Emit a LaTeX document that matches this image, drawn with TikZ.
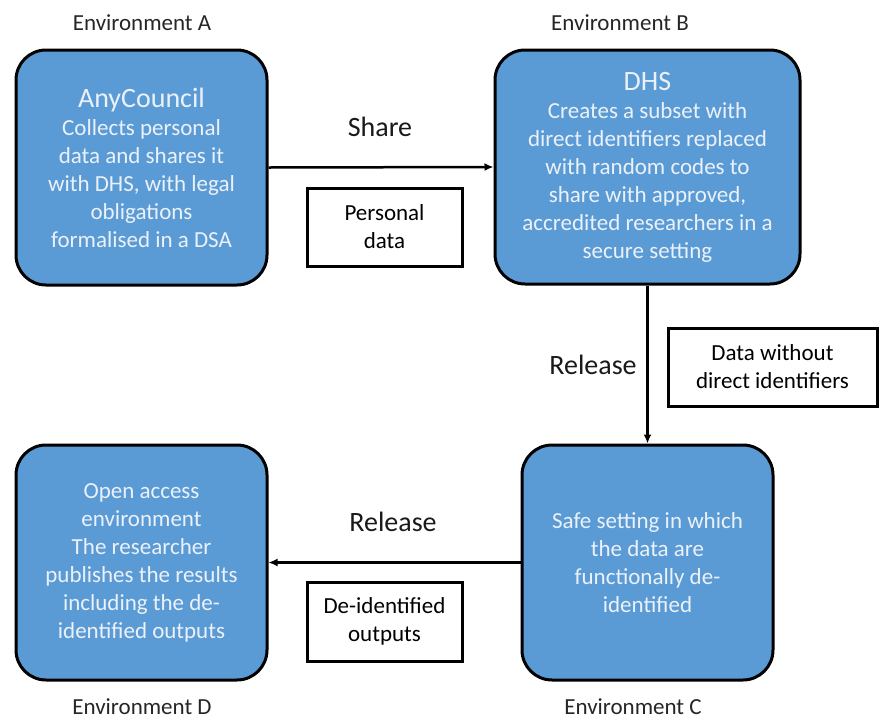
\documentclass[tikz,border=0pt]{standalone}
\usepackage{fontspec}
\setmainfont{Carlito}
\usetikzlibrary{arrows.meta}
\definecolor{boxblue}{RGB}{91,155,213}
\definecolor{boxtext}{RGB}{235,241,249}
\begin{document}
\begin{tikzpicture}[x=1pt,y=-1pt,
  envbox/.style={draw=black, line width=3pt, fill=boxblue, rounded corners=30pt,
    text=boxtext, align=center, inner sep=0pt,
    font=\fontsize{23}{28}\selectfont},
  databox/.style={draw=black, line width=3pt, fill=white, align=center, inner sep=0pt,
    font=\fontsize{23}{28}\selectfont},
  envlabel/.style={font=\fontsize{23}{28}\selectfont, text=black!85},
  flowlabel/.style={font=\fontsize{28}{32}\selectfont, text=black!90},
  flow/.style={line width=2.5pt, -{Latex[length=9pt,width=8pt]}}
]
\useasboundingbox (0,0) rectangle (895,721);

\node[envbox, minimum width=251pt, minimum height=235pt] (A) at (141.5,167.5)
  {{\fontsize{28}{32}\selectfont AnyCouncil}\\Collects personal\\data and shares it\\with DHS, with legal\\obligations\\formalised in a DSA};
\node[envbox, minimum width=305pt, minimum height=234pt] (B) at (647.5,167)
  {{\fontsize{28}{32}\selectfont DHS}\\Creates a subset with\\direct identifiers replaced\\with random codes to\\share with approved,\\accredited researchers in a\\secure setting};
\node[envbox, minimum width=251pt, minimum height=235pt] (C) at (647.5,562.5)
  {Safe setting in which\\the data are\\functionally de-\\identified};
\node[envbox, minimum width=251pt, minimum height=235pt] (D) at (141.5,562.5)
  {Open access\\environment\\The researcher\\publishes the results\\including the de-\\identified outputs};

\node[envlabel] (EA) at (142,23) {Environment A};
\node[envlabel] (EB) at (620,23) {Environment B};
\node[envlabel] (EC) at (633,707) {Environment C};
\node[envlabel] (ED) at (142,707) {Environment D};

\draw[flow] (A.east) -- (B.west);
\draw[flow] (B.south) -- (C.north);
\draw[flow] (C.west) -- (D.east);

\node[flowlabel] (L1) at (380,127) {Share};
\node[flowlabel] (L2) at (593,365) {Release};
\node[flowlabel] (L3) at (393,522) {Release};

\node[databox, minimum width=155pt, minimum height=78pt] (P1) at (384.5,227) {Personal\\data};
\node[databox, minimum width=209pt, minimum height=78pt] (P2) at (772.5,367) {Data without\\direct identifiers};
\node[databox, minimum width=155pt, minimum height=79pt] (P3) at (384.5,621.5) {De-identified\\outputs};
\end{tikzpicture}
\end{document}
